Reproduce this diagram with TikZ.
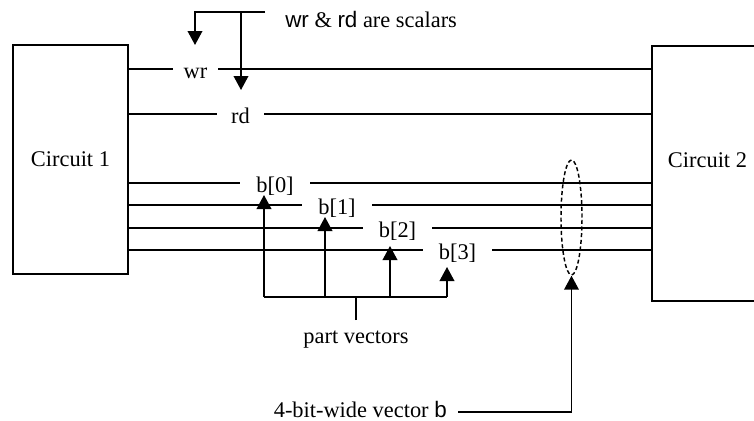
\documentclass[tikz,border=0pt]{standalone}
\usepackage{fontspec}
\setmainfont{Liberation Serif}
\newfontfamily\sansf{Liberation Sans}
\usetikzlibrary{arrows.meta,shapes.geometric}
\tikzset{
  wire/.style={line width=1.2pt},
  arr/.style={line width=1.2pt,-{Triangle[length=10.5pt,width=11pt]}},
  txt/.style={font=\fontsize{16.8pt}{19pt}\selectfont, inner sep=0pt},
  lbl/.style={txt, text height=13.5pt, text depth=0pt},
  box/.style={draw, line width=1.2pt, rectangle, inner sep=0pt},
}
\begin{document}
\begin{tikzpicture}[x=0.75pt,y=-0.75pt]
\useasboundingbox (0,0) rectangle (754,421);
% circuits
\node[box, txt, draw, line width=1.2pt, minimum width=115*0.75pt, minimum height=229*0.75pt] (c1) at (70.5,159.5) {Circuit 1};
\node[box, minimum width=143*0.75pt, minimum height=255*0.75pt] (c2) at (723.5,173.5) {};
\node[txt, anchor=base] (c2t) at (707.5,167) {Circuit 2};
% labels on wires
\node[lbl, minimum width=45*0.75pt] (wr) at (195.5,69) {wr};
\node[lbl, minimum width=47*0.75pt] (rd) at (240.5,114) {rd};
\node[lbl, minimum width=70*0.75pt] (b0) at (275,183) {b[0]};
\node[lbl, minimum width=70*0.75pt] (b1) at (337,205) {b[1]};
\node[lbl, minimum width=69*0.75pt] (b2) at (397.5,228) {b[2]};
\node[lbl, minimum width=69*0.75pt] (b3) at (457.5,250) {b[3]};
\foreach \n in {wr,rd,b0,b1,b2,b3}{
  \draw[wire] (c1.east |- \n.west) -- (\n.west);
  \draw[wire] (\n.east) -- (c2.west |- \n.east);
}
% scalars annotation
\node[txt, anchor=base west] (sc) at (285,27) {{\sansf wr} \& {\sansf rd} are scalars};
\coordinate (sc0) at (265,12);
\coordinate (scw) at (241,12);
\coordinate (tw) at (195,45);
\coordinate (tr) at (241,90);
\draw[arr] (sc0) -| (tw);
\draw[arr] (scw) -- (tr);
% part vectors
\coordinate (f0) at (264,297);
\coordinate (f1) at (325,297);
\coordinate (f2) at (390,297);
\coordinate (f3) at (447,297);
\coordinate (t0) at (264,195);
\coordinate (t1) at (325,217);
\coordinate (t2) at (390,246);
\coordinate (t3) at (447,267);
\coordinate (j) at (356,297);
\coordinate (s) at (356,320);
\draw[wire] (f0) -- (f3);
\draw[arr] (f0) -- (t0);
\draw[arr] (f1) -- (t1);
\draw[arr] (f2) -- (t2);
\draw[arr] (f3) -- (t3);
\draw[wire] (s) -- (j);
\node[txt, anchor=base] (pv) at (356,343) {part vectors};
% vector b
\node[draw, ellipse, dash pattern=on 3pt off 2pt, line width=1.1pt, minimum width=21*0.75pt, minimum height=115*0.75pt, inner sep=0pt] (ell) at (571.5,217.5) {};
\node[txt, anchor=base east] (vb) at (447,417) {4-bit-wide vector {\sansf b}};
\coordinate (vs) at (458,412);
\draw[arr] (vs) -| (ell.south);
\end{tikzpicture}
\end{document}
